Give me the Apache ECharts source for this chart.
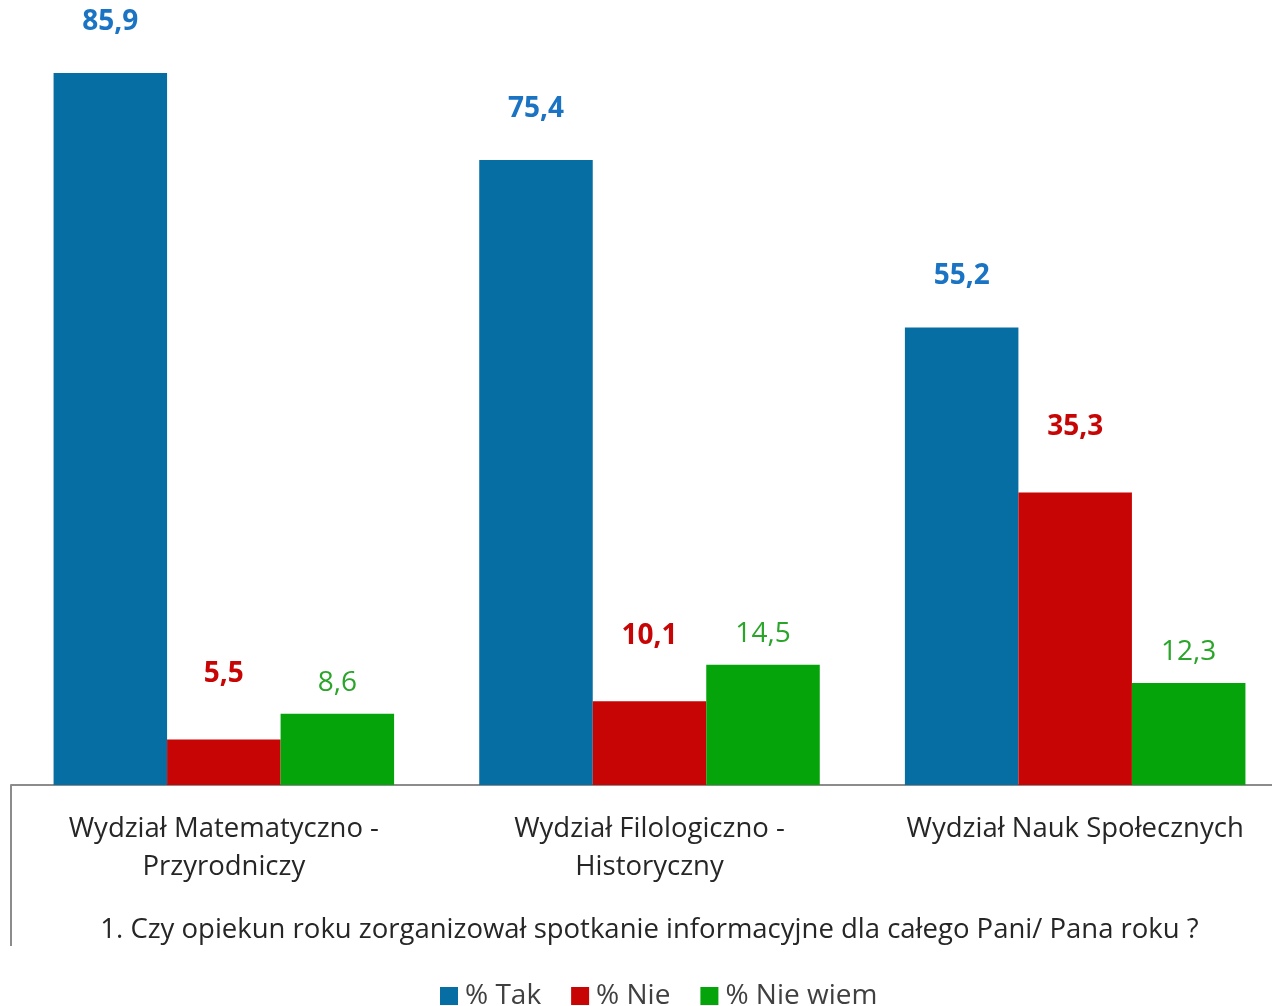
<!DOCTYPE html>
<html lang="pl">
<head>
    <meta charset="UTF-8">
    <title>Spotkanie informacyjne</title>
    <script src="https://cdn.jsdelivr.net/npm/echarts@6/dist/echarts.min.js"></script>
    <style>
        html, body { margin: 0; padding: 0; background: #fff; overflow: hidden; }
        /* a bit wider than the window: the plot runs past the right edge */
        #chart { width: 1300px; height: 1006px; }
    </style>
</head>
<body>
    <div id="chart"></div>
    <script>
        var categories = ['Wydział Matematyczno -\nPrzyrodniczy', 'Wydział Filologiczno -\nHistoryczny', 'Wydział Nauk Społecznych']
        var seriesNames = ['% Tak', '% Nie', '% Nie wiem']
        var tak = [85.9, 75.4, 55.2]
        var nie = [5.5, 10.1, 35.3]
        var nieWiem = [8.6, 14.5, 12.3]
        var questionTitle = '1. Czy opiekun roku zorganizował spotkanie informacyjne dla całego Pani/ Pana roku ?'

        var font = 'Open Sans'
        function fmt(p) {
            return p.value.toFixed(1).replace('.', ',')
        }
        function makeSeries(name, data, barColor, labelColor, bold, dist) {
            return {
                name: name,
                type: 'bar',
                data: data,
                barGap: '0%',
                barCategoryGap: '20%',
                itemStyle: { color: barColor },
                label: {
                    show: true,
                    position: 'top',
                    distance: dist,
                    formatter: fmt,
                    color: labelColor,
                    fontFamily: font,
                    fontSize: 28,
                    fontWeight: bold ? 'bold' : 'normal'
                }
            }
        }

        var chart = echarts.init(document.getElementById('chart'))
        chart.setOption({
            animation: false,
            textStyle: { fontFamily: font },
            grid: { left: 11, top: 39, width: 1277, height: 746 },
            legend: {
                data: seriesNames,
                top: 977,
                left: 435,
                itemWidth: 18,
                itemHeight: 18,
                itemGap: 30,
                icon: 'rect',
                textStyle: { fontFamily: font, fontSize: 28, color: '#404040', padding: [0, 0, 0, 2] }
            },
            xAxis: {
                type: 'category',
                data: categories,
                name: questionTitle,
                nameLocation: 'middle',
                nameGap: 131,
                nameTextStyle: { fontFamily: font, fontSize: 27.5, color: '#262626' },
                axisLine: { lineStyle: { color: '#8c8c8c', width: 2 } },
                axisTick: { show: false },
                axisLabel: {
                    interval: 0,
                    margin: 25,
                    fontFamily: font,
                    fontSize: 27.5,
                    lineHeight: 38,
                    color: '#262626'
                }
            },
            yAxis: {
                type: 'value',
                min: 0,
                max: 90,
                show: false
            },
            graphic: [{
                type: 'line',
                shape: { x1: 11, y1: 785, x2: 11, y2: 946 },
                style: { stroke: '#8c8c8c', lineWidth: 2 }
            }],
            series: [
                makeSeries(seriesNames[0], tak, '#076ea3', '#1a73c3', true, 37),
                makeSeries(seriesNames[1], nie, '#c80505', '#c80505', true, 51),
                makeSeries(seriesNames[2], nieWiem, '#04a40a', '#2aa52a', false, 17)
            ]
        })
    </script>
</body>
</html>
